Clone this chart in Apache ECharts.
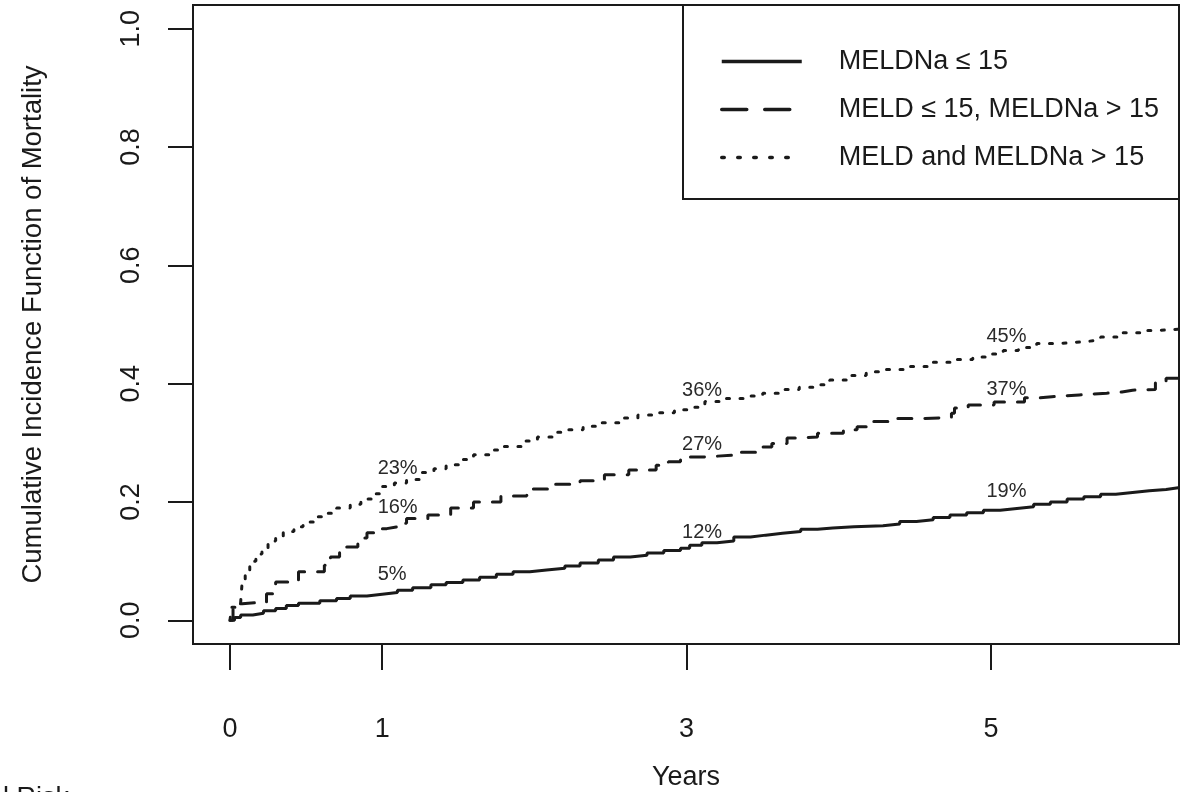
<!DOCTYPE html>
<html>
<head>
<meta charset="utf-8">
<script src="https://cdn.jsdelivr.net/npm/echarts@6/dist/echarts.min.js"></script>
<style>
  html, body { margin: 0; padding: 0; background: #fff; }
  #chart { width: 1187px; height: 792px; }
</style>
</head>
<body>
<div id="chart"></div>
<script>
// ---------- data ----------
const seriesNames = ['MELDNa \u2264 15', 'MELD \u2264 15, MELDNa > 15', 'MELD and MELDNa > 15'];

const solidTimes = [0, 0.03, 0.07, 0.15, 0.22, 0.30, 0.37, 0.45, 0.59, 0.70, 0.79, 0.90, 1.00, 1.10, 1.20, 1.32, 1.42, 1.53, 1.64, 1.75, 1.86, 1.97, 2.08, 2.20, 2.30, 2.42, 2.52, 2.63, 2.74, 2.85, 2.96, 3.02, 3.10, 3.20, 3.31, 3.42, 3.52, 3.63, 3.75, 3.86, 3.96, 4.10, 4.29, 4.40, 4.51, 4.62, 4.73, 4.84, 4.95, 5.06, 5.17, 5.28, 5.39, 5.50, 5.61, 5.72, 5.82, 5.93, 6.04, 6.15, 6.23];
const solidValues = [0, 0.005, 0.009, 0.012, 0.016, 0.020, 0.025, 0.029, 0.033, 0.037, 0.041, 0.044, 0.047, 0.051, 0.055, 0.060, 0.064, 0.068, 0.073, 0.078, 0.082, 0.085, 0.088, 0.092, 0.097, 0.102, 0.107, 0.110, 0.114, 0.118, 0.122, 0.127, 0.131, 0.134, 0.141, 0.144, 0.147, 0.150, 0.154, 0.156, 0.158, 0.160, 0.163, 0.167, 0.170, 0.174, 0.178, 0.182, 0.186, 0.189, 0.192, 0.196, 0.200, 0.205, 0.209, 0.213, 0.216, 0.219, 0.221, 0.224, 0.226];

const dashedTimes = [0, 0.02, 0.08, 0.18, 0.24, 0.30, 0.45, 0.62, 0.66, 0.72, 0.84, 0.90, 0.97, 1.03, 1.10, 1.16, 1.30, 1.45, 1.60, 1.78, 1.95, 2.12, 2.30, 2.46, 2.62, 2.80, 2.88, 2.96, 3.10, 3.30, 3.48, 3.56, 3.66, 3.72, 3.86, 4.03, 4.12, 4.20, 4.38, 4.55, 4.74, 4.76, 4.85, 5.02, 5.22, 5.32, 5.40, 5.58, 5.76, 5.86, 5.93, 6.08, 6.15, 6.23];
const dashedValues = [0, 0.028, 0.030, 0.030, 0.045, 0.065, 0.082, 0.093, 0.107, 0.124, 0.139, 0.148, 0.155, 0.158, 0.164, 0.172, 0.178, 0.190, 0.200, 0.210, 0.222, 0.230, 0.236, 0.246, 0.254, 0.262, 0.268, 0.276, 0.279, 0.284, 0.293, 0.299, 0.308, 0.310, 0.316, 0.322, 0.327, 0.336, 0.341, 0.343, 0.350, 0.359, 0.364, 0.369, 0.376, 0.378, 0.381, 0.384, 0.386, 0.389, 0.390, 0.403, 0.409, 0.410];

const dottedTimes = [0, 0.01, 0.07, 0.08, 0.10, 0.13, 0.17, 0.21, 0.25, 0.30, 0.35, 0.42, 0.48, 0.55, 0.62, 0.70, 0.79, 0.86, 0.93, 1.00, 1.08, 1.16, 1.25, 1.34, 1.42, 1.50, 1.60, 1.70, 1.80, 1.92, 2.02, 2.13, 2.22, 2.32, 2.44, 2.56, 2.68, 2.80, 2.92, 3.02, 3.12, 3.25, 3.40, 3.50, 3.62, 3.74, 3.86, 3.94, 4.08, 4.18, 4.30, 4.45, 4.60, 4.75, 4.88, 4.98, 5.08, 5.18, 5.30, 5.45, 5.62, 5.72, 5.85, 5.98, 6.10, 6.23];
const dottedValues = [0, 0.022, 0.030, 0.065, 0.085, 0.100, 0.112, 0.122, 0.134, 0.142, 0.150, 0.158, 0.166, 0.175, 0.181, 0.190, 0.196, 0.205, 0.214, 0.226, 0.232, 0.238, 0.250, 0.256, 0.263, 0.272, 0.280, 0.288, 0.294, 0.303, 0.310, 0.318, 0.322, 0.328, 0.334, 0.342, 0.347, 0.351, 0.356, 0.360, 0.370, 0.375, 0.379, 0.384, 0.390, 0.394, 0.398, 0.406, 0.414, 0.420, 0.424, 0.429, 0.436, 0.441, 0.445, 0.450, 0.456, 0.461, 0.468, 0.471, 0.474, 0.479, 0.486, 0.490, 0.492, 0.494];

// percentage annotations (left edge x, y, text)
const annoX = [0.97, 0.97, 0.97, 2.97, 2.97, 2.97, 4.97, 4.97, 4.97];
const annoY = [0.078, 0.190, 0.257, 0.149, 0.298, 0.388, 0.218, 0.390, 0.479];
const annoText = ['5%', '16%', '23%', '12%', '27%', '36%', '19%', '37%', '45%'];

const xTicks = [0, 1, 3, 5];
const yTicks = [0, 0.2, 0.4, 0.6, 0.8, 1.0];

const xTitle = 'Years';
const yTitle = 'Cumulative Incidence Function of Mortality';
const cutText = 'l Risk';

// ---------- chart ----------
const FONT = '"Liberation Sans", Arial, sans-serif';
const INK = '#1a1a1a';
const FS = 27;
const zip = (a, b) => a.map((t, i) => [t, b[i]]);

const chart = echarts.init(document.getElementById('chart'), null, { renderer: 'canvas' });

const lineBase = { type: 'line', step: 'end', symbol: 'none', showSymbol: false, silent: true, animation: false };

chart.setOption({
  animation: false,
  backgroundColor: '#ffffff',
  textStyle: { fontFamily: FONT, color: INK },
  grid: {
    left: 193, top: 5, width: 986, height: 639,
    containLabel: false, outerBoundsMode: 'none',
    show: true, borderColor: INK, borderWidth: 2, backgroundColor: 'transparent'
  },
  xAxis: {
    type: 'value', min: -0.243, max: 6.235,
    axisLine: { show: false, onZero: false },
    splitLine: { show: false },
    axisTick: { show: true, customValues: xTicks, length: 26, lineStyle: { color: INK, width: 2 } },
    axisLabel: { show: true, customValues: xTicks, margin: 72, fontSize: FS, color: INK, fontFamily: FONT },
    name: xTitle, nameLocation: 'middle', nameGap: 120,
    nameTextStyle: { fontSize: FS, color: INK, fontFamily: FONT }
  },
  yAxis: {
    type: 'value', min: -0.04, max: 1.04,
    axisLine: { show: false, onZero: false },
    splitLine: { show: false },
    axisTick: { show: true, customValues: yTicks, length: 25, lineStyle: { color: INK, width: 2 } },
    axisLabel: { show: true, customValues: yTicks, margin: 48, rotate: 90, fontSize: FS, color: INK, fontFamily: FONT,
      formatter: v => Number(v).toFixed(1) },
    name: yTitle, nameLocation: 'middle', nameGap: 146, nameRotate: 90,
    nameTextStyle: { fontSize: 27.5, color: INK, fontFamily: FONT }
  },
  legend: {
    orient: 'vertical', left: 720, top: 48, padding: 0,
    itemWidth: 80, itemHeight: 14, itemGap: 21,
    textStyle: { fontSize: FS, lineHeight: 27, color: INK, fontFamily: FONT, padding: [0, 0, 0, 32] },
    itemStyle: { opacity: 0 },
    selectedMode: false,
    data: [
      { name: seriesNames[0], lineStyle: { width: 3.5, type: 'solid', cap: 'butt' } },
      { name: seriesNames[1], lineStyle: { width: 3.5, type: [25, 18], cap: 'round' } },
      { name: seriesNames[2], lineStyle: { width: 3.5, type: [2.5, 13.5], cap: 'round' } }
    ]
  },
  graphic: [
    { type: 'rect', shape: { x: 683, y: 5, width: 496, height: 194 }, style: { fill: 'none', stroke: INK, lineWidth: 2 }, silent: true, z: 100 },
    { type: 'text', left: 3, top: 785, style: { text: cutText, fontSize: FS, fontFamily: FONT, fill: INK }, silent: true }
  ],
  series: [
    Object.assign({}, lineBase, { name: seriesNames[0], data: zip(solidTimes, solidValues),
      lineStyle: { color: INK, width: 3, type: 'solid' }, itemStyle: { color: INK } }),
    Object.assign({}, lineBase, { name: seriesNames[1], data: zip(dashedTimes, dashedValues),
      lineStyle: { color: INK, width: 3, type: [14, 13], cap: 'round' }, itemStyle: { color: INK } }),
    Object.assign({}, lineBase, { name: seriesNames[2], data: zip(dottedTimes, dottedValues),
      lineStyle: { color: INK, width: 3, type: [3, 10.5], cap: 'round' }, itemStyle: { color: INK } }),
    {
      type: 'scatter', name: 'annotations', silent: true, symbolSize: 0,
      itemStyle: { opacity: 1, color: INK },
      data: annoX.map((x, i) => [x, annoY[i], annoText[i]]),
      label: { show: true, position: 'inside', align: 'left', verticalAlign: 'middle',
        fontSize: 20, color: '#2a2a2a', fontFamily: FONT, formatter: p => p.data[2] }
    }
  ]
});
</script>
</body>
</html>
